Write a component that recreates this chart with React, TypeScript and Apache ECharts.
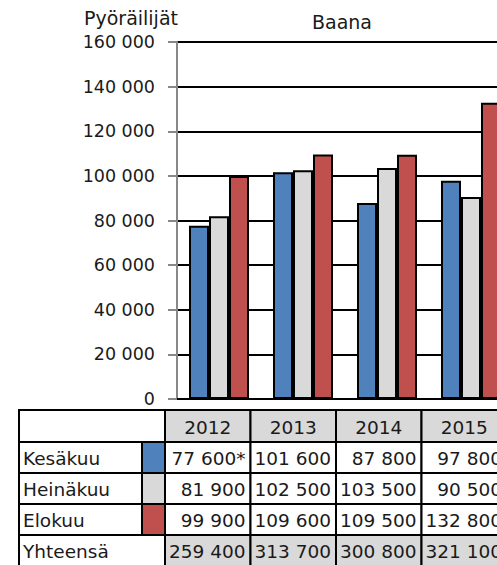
import React, { useEffect, useRef } from "react";
import * as echarts from "echarts";

const years = ["2012", "2013", "2014", "2015"];
const seriesNames = ["Kesäkuu", "Heinäkuu", "Elokuu"];
const kesakuu = [77600, 101600, 87800, 97800];
const heinakuu = [81900, 102500, 103500, 90500];
const elokuu = [99900, 109600, 109500, 132800];
const yhteensa = [259400, 313700, 300800, 321100];
const footnoteMarks = ["*", "", "", ""];
const totalLabel = "Yhteensä";
const yTitle = "Pyöräilijät";
const chartTitle = "Baana";
const colors = ["#4f81bd", "#d9d9d9", "#c0504d"];

const FONT = "DejaVu Sans";

function fmt(v: number): string {
  const s = String(Math.round(v));
  return s.replace(/\B(?=(\d{3})+(?!\d))/g, " ");
}

export default function App() {
  const ref = useRef<HTMLDivElement>(null);
  useEffect(() => {
    if (!ref.current) return;
    const chart = echarts.init(ref.current, undefined, { renderer: "svg" });
    const seriesData = [kesakuu, heinakuu, elokuu];

    const tLeft = 19;
    const keyX = 142;
    const colX0 = 165;
    const colW = 85.5;
    const top = 410;
    const headH = 32;
    const rowH = 31;
    const TS = 18.5;
    const stroke = { stroke: "#000", lineWidth: 2 };
    const graphics: any[] = [];

    graphics.push({
      type: "rect",
      shape: { x: tLeft, y: top, width: colX0 - tLeft, height: headH },
      style: { fill: "#fff", ...stroke },
    });
    years.forEach((yr, i) => {
      const x = colX0 + i * colW;
      graphics.push({
        type: "rect",
        shape: { x, y: top, width: colW, height: headH },
        style: { fill: "#d9d9d9", ...stroke },
      });
      graphics.push({
        type: "text",
        x: x + colW / 2,
        y: top + headH / 2 + 1,
        style: { text: yr, fontFamily: FONT, fontSize: TS, fill: "#1a1a1a", align: "center", verticalAlign: "middle" },
      });
    });
    seriesNames.forEach((name, r) => {
      const y = top + headH + r * rowH;
      graphics.push({
        type: "rect",
        shape: { x: tLeft, y, width: keyX - tLeft, height: rowH },
        style: { fill: "#fff", ...stroke },
      });
      graphics.push({
        type: "text",
        x: tLeft + 4,
        y: y + rowH / 2 + 1,
        style: { text: name, fontFamily: FONT, fontSize: TS, fill: "#1a1a1a", align: "left", verticalAlign: "middle" },
      });
      graphics.push({
        type: "rect",
        shape: { x: keyX, y, width: colX0 - keyX, height: rowH },
        style: { fill: colors[r], ...stroke },
      });
      seriesData[r].forEach((v, i) => {
        const x = colX0 + i * colW;
        graphics.push({
          type: "rect",
          shape: { x, y, width: colW, height: rowH },
          style: { fill: "#fff", ...stroke },
        });
        graphics.push({
          type: "text",
          x: x + colW - 5,
          y: y + rowH / 2 + 1,
          style: {
            text: fmt(v) + (r === 0 ? footnoteMarks[i] : ""),
            fontFamily: FONT,
            fontSize: TS,
            fill: "#1a1a1a",
            align: "right",
            verticalAlign: "middle",
          },
        });
      });
    });
    {
      const y = top + headH + seriesNames.length * rowH;
      graphics.push({
        type: "rect",
        shape: { x: tLeft, y, width: colX0 - tLeft, height: rowH },
        style: { fill: "#fff", ...stroke },
      });
      graphics.push({
        type: "text",
        x: tLeft + 4,
        y: y + rowH / 2 + 1,
        style: { text: totalLabel, fontFamily: FONT, fontSize: TS, fill: "#1a1a1a", align: "left", verticalAlign: "middle" },
      });
      yhteensa.forEach((v, i) => {
        const x = colX0 + i * colW;
        graphics.push({
          type: "rect",
          shape: { x, y, width: colW, height: rowH },
          style: { fill: "#d9d9d9", ...stroke },
        });
        graphics.push({
          type: "text",
          x: x + colW - 5,
          y: y + rowH / 2 + 1,
          style: { text: fmt(v), fontFamily: FONT, fontSize: TS, fill: "#1a1a1a", align: "right", verticalAlign: "middle" },
        });
      });
    }
    graphics.push({
      type: "text",
      x: 84,
      y: 18,
      style: { text: yTitle, fontFamily: FONT, fontSize: 19, fill: "#1a1a1a", align: "left", verticalAlign: "middle" },
    });
    graphics.push({
      type: "text",
      x: 342,
      y: 22,
      style: { text: chartTitle, fontFamily: FONT, fontSize: 19, fill: "#1a1a1a", align: "center", verticalAlign: "middle" },
    });

    chart.setOption({
      animation: false,
      backgroundColor: "#fff",
      grid: { left: 177, top: 42, width: 336, height: 357, containLabel: false },
      xAxis: {
        type: "category",
        data: years,
        axisLine: { lineStyle: { color: "#000", width: 2 } },
        axisTick: { show: false },
        axisLabel: { show: false },
      },
      yAxis: {
        type: "value",
        min: 0,
        max: 160000,
        interval: 20000,
        axisLine: { show: true, lineStyle: { color: "#888", width: 2 } },
        axisTick: { show: true, length: 9, lineStyle: { color: "#888", width: 2 } },
        splitLine: { show: true, lineStyle: { color: "#000", width: 2 } },
        axisLabel: {
          margin: 22,
          fontFamily: FONT,
          fontSize: 17.5,
          color: "#1a1a1a",
          formatter: (v: number) => fmt(v),
        },
      },
      series: seriesData.map((d, i) => ({
        type: "bar",
        name: seriesNames[i],
        data: d,
        barWidth: 20,
        barGap: "0%",
        itemStyle: { color: colors[i], borderColor: "#000", borderWidth: 2 },
      })),
      graphic: graphics,
    });
    return () => chart.dispose();
  }, []);
  return (
    <div style={{ position: "fixed", left: 0, top: 0, width: 497, height: 565, overflow: "hidden", background: "#fff" }}>
      <div ref={ref} style={{ width: 560, height: 565 }} />
    </div>
  );
}
